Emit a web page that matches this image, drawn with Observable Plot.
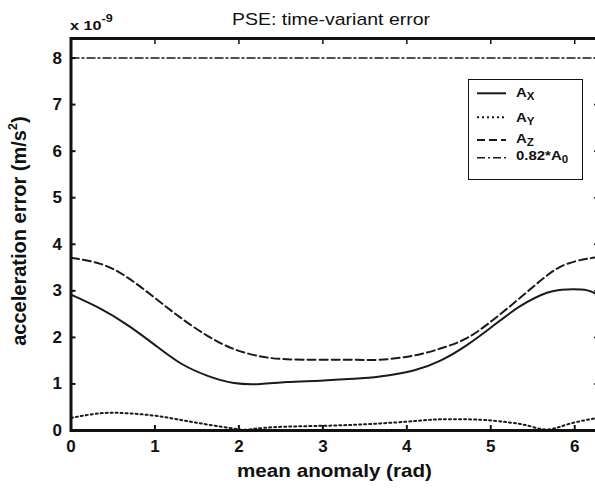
<!DOCTYPE html>
<html><head><meta charset="utf-8">
<script src="https://cdn.jsdelivr.net/npm/d3@7"></script>
<script src="https://cdn.jsdelivr.net/npm/@observablehq/plot@0.6"></script>
<style>
html,body{margin:0;padding:0;background:#fff;overflow:hidden}
#wrap{width:595px;height:492px;overflow:hidden;position:relative}
</style></head><body><div id="wrap"></div>
<script>
// ---- data (values x 1e-9 m/s^2) ----
const xTicks = [0, 1, 2, 3, 4, 5, 6];
const yTicks = [0, 1, 2, 3, 4, 5, 6, 7, 8];

const axM = [0, 0.35, 0.67, 0.99, 1.30, 1.62, 1.94, 2.26, 2.57, 2.97, 3.37, 3.68, 4.08, 4.40, 4.72, 5.03, 5.35, 5.67, 5.91, 6.15, 6.28];
const axV = [2.92, 2.62, 2.27, 1.85, 1.45, 1.18, 1.02, 1.00, 1.04, 1.07, 1.11, 1.16, 1.29, 1.50, 1.84, 2.25, 2.67, 2.96, 3.03, 3.01, 2.90];

const ayM = [0, 0.35, 0.67, 0.99, 1.30, 1.62, 1.94, 2.10, 2.41, 2.97, 3.45, 4.00, 4.40, 4.88, 5.19, 5.43, 5.67, 5.91, 6.18, 6.28];
const ayV = [0.27, 0.37, 0.37, 0.32, 0.23, 0.13, 0.04, 0.02, 0.07, 0.10, 0.13, 0.19, 0.24, 0.23, 0.18, 0.11, 0.02, 0.13, 0.24, 0.27];

const azM = [0, 0.35, 0.67, 0.99, 1.30, 1.62, 1.94, 2.26, 2.57, 2.97, 3.37, 3.68, 4.08, 4.40, 4.72, 5.03, 5.35, 5.67, 5.91, 6.15, 6.28];
const azV = [3.71, 3.58, 3.29, 2.86, 2.43, 2.04, 1.75, 1.59, 1.53, 1.52, 1.52, 1.52, 1.61, 1.76, 1.99, 2.38, 2.85, 3.33, 3.58, 3.69, 3.72];

const a0M = [0, 2 * Math.PI];
const a0V = [8.0, 8.0];

const seriesNames = ["A_X", "A_Y", "A_Z", "0.82*A_0"];
const dashes = [null, "2,3", "8,4", "8,3,2,3"];

const toRows = (ms, vs) => ms.map((m, i) => ({m, v: vs[i]}));
const series = [toRows(axM, axV), toRows(ayM, ayV), toRows(azM, azV), toRows(a0M, a0V)];
const widths = [2, 2, 2, 1.5];

const FONT = "'Liberation Sans', Arial, Helvetica, sans-serif";

const plot = Plot.plot({
  width: 598, height: 492,
  marginLeft: 70.5, marginRight: 0, marginTop: 38, marginBottom: 62,
  style: {fontFamily: FONT, background: "#fff", maxWidth: "none", color: "#111"},
  x: {domain: [0, 2 * Math.PI]},
  y: {domain: [0, 8.42]},
  marks: [
    ...series.map((rows, i) => Plot.line(rows, {
      x: "m", y: "v", stroke: "#1a1a1a", strokeWidth: widths[i],
      strokeDasharray: dashes[i], curve: "natural"
    })),
    Plot.frame({stroke: "#111", strokeWidth: 3}),
    Plot.axisX({ticks: xTicks, tickSize: -5, strokeWidth: 2, fontSize: 17, fontWeight: "bold", tickFormat: d3.format("d"), label: null}),
    Plot.axisX({ticks: xTicks, anchor: "top", tickSize: -5, strokeWidth: 1.5, tickFormat: () => "", label: null}),
    Plot.axisY({ticks: yTicks, tickSize: -5, strokeWidth: 2, fontSize: 17, fontWeight: "bold", tickFormat: d3.format("d"), label: null}),
    Plot.axisY({ticks: yTicks, anchor: "right", tickSize: -5, strokeWidth: 1.5, tickFormat: () => "", label: null})
  ]
});

document.getElementById("wrap").appendChild(plot);

const svg = d3.select(plot);
const g = svg.append("g").attr("font-family", FONT).attr("fill", "#111").attr("text-anchor", "start");

// title
g.append("text").attr("x", 232).attr("y", 25)
  .attr("font-size", 17).attr("textLength", 198).attr("lengthAdjust", "spacingAndGlyphs")
  .text("PSE: time-variant error");

// exponent
const ex = g.append("text").attr("transform", "translate(70,29.5) scale(1.2,1)")
  .attr("font-size", 13.5).attr("font-weight", "bold");
ex.append("tspan").text("x 10");
ex.append("tspan").attr("font-size", 10.5).attr("dy", -8).text("-9");

// x label
g.append("text").attr("x", 237).attr("y", 477)
  .attr("font-size", 18).attr("font-weight", "bold")
  .attr("textLength", 195).attr("lengthAdjust", "spacingAndGlyphs")
  .text("mean anomaly (rad)");

// y label
const yl = g.append("text").attr("transform", "translate(26,231) rotate(-90)")
  .attr("text-anchor", "middle").attr("font-size", 20).attr("font-weight", "bold");
yl.append("tspan").text("acceleration error (m/s");
yl.append("tspan").attr("font-size", 13).attr("dy", -9).text("2");
yl.append("tspan").attr("dy", 9).text(")");

// legend
const lg = g.append("g");
lg.append("rect").attr("x", 468.5).attr("y", 79.5).attr("width", 114).attr("height", 100)
  .attr("fill", "#fff").attr("stroke", "#111").attr("stroke-width", 1);
const lineY = [93.3, 117.3, 140, 157.7];
const textY = [97, 122, 143, 160];
const mains = ["A", "A", "A", "0.82*A"];
const subs = ["X", "Y", "Z", "0"];
seriesNames.forEach((name, i) => {
  lg.append("line").attr("x1", 477).attr("x2", 506).attr("y1", lineY[i]).attr("y2", lineY[i])
    .attr("stroke", "#1a1a1a").attr("stroke-width", widths[i])
    .attr("stroke-dasharray", dashes[i]);
  const t = lg.append("text").attr("transform", `translate(516,${textY[i]}) scale(1.15,1)`)
    .attr("font-size", 13).attr("font-weight", "bold");
  t.append("tspan").text(mains[i]);
  t.append("tspan").attr("font-size", 10).attr("dy", 3).text(subs[i]);
});
</script>
</body></html>
